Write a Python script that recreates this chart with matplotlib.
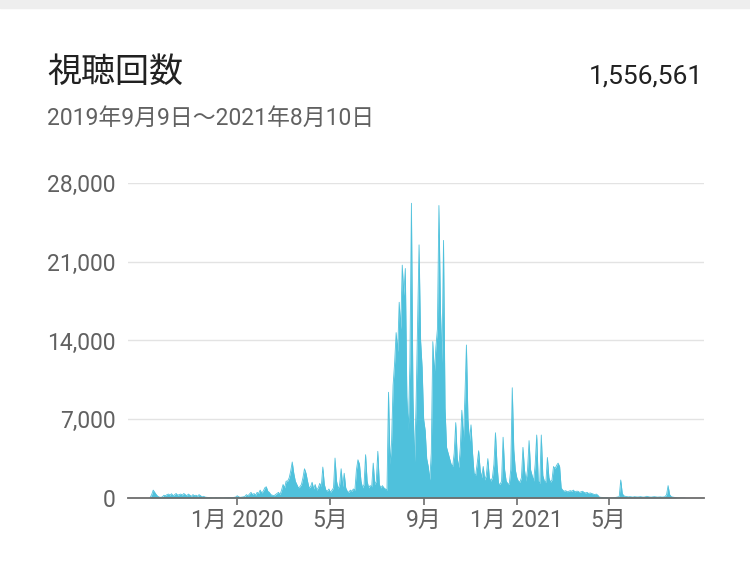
import matplotlib
matplotlib.use("Agg")
import matplotlib.pyplot as plt
import numpy as np
import pandas as pd

plt.rcParams['font.family'] = ['Roboto', 'Noto Sans CJK JP', 'DejaVu Sans']

title = "視聴回数"
total_label = "1,556,561"
subtitle = "2019年9月9日〜2021年8月10日"

start_date = "2019-09-09"
step_days = 2

# views sampled every 2 days starting 2019-09-09
views = [
    50, 300, 700, 500, 300, 150, 80, 60, 100, 250,
    200, 300, 350, 250, 380, 200, 300, 400, 250, 300,
    350, 250, 400, 300, 200, 350, 250, 150, 300, 200,
    250, 150, 300, 200, 100, 150, 80, 60, 50, 40,
    30, 20, 20, 30, 20, 20, 30, 20, 20, 30,
    30, 40, 30, 50, 40, 60, 80, 200, 100, 60,
    80, 100, 150, 300, 200, 350, 500, 300, 400, 250,
    500, 400, 700, 450, 600, 900, 1000, 600, 500, 300,
    250, 200, 300, 400, 500, 300, 700, 1200, 900, 1500,
    1500, 1800, 2400, 3200, 2200, 1500, 1200, 900, 1000, 1200,
    1800, 2600, 2200, 1500, 900, 1000, 1400, 800, 1200, 700,
    900, 1300, 1000, 2750, 1200, 700, 600, 800, 500, 700,
    900, 3550, 1500, 800, 1200, 2600, 1000, 2200, 900, 600,
    500, 700, 600, 800, 700, 2500, 3400, 3000, 1500, 900,
    1200, 3850, 1500, 900, 1100, 1000, 3100, 1200, 1500, 4150,
    1200, 900, 1100, 900, 800, 700, 9400, 3000, 4900, 10000,
    12000, 14700, 13000, 17400, 15000, 20700, 18000, 20400, 9000, 6000,
    12000, 26200, 9000, 3100, 8000, 15000, 22500, 14000, 11600, 7000,
    6000, 3500, 2800, 1600, 4000, 13900, 11000, 13400, 15000, 26000,
    16700, 12000, 22900, 8000, 4500, 4000, 3500, 3000, 2800, 4000,
    6700, 3500, 2700, 4500, 7800, 5000, 9000, 13600, 7000, 5000,
    6500, 4000, 2200, 2000, 3000, 4200, 2500, 1800, 2800, 1600,
    2000, 3500, 1800, 1500, 1800, 3000, 5800, 3000, 1300, 1200,
    1500, 5400, 2500, 1500, 1300, 1200, 2500, 9800, 4300, 2500,
    1800, 1500, 1400, 1800, 4500, 2500, 1500, 2500, 5100, 2500,
    2000, 1500, 3000, 5600, 1500, 1300, 5600, 2000, 1500, 1400,
    3600, 1800, 1400, 1600, 2800, 2600, 2900, 3100, 2800, 900,
    700, 600, 650, 550, 600, 650, 600, 700, 550, 600,
    600, 500, 550, 600, 500, 450, 500, 400, 450, 400,
    350, 300, 350, 250, 80, 60, 50, 40, 50, 40,
    10, 10, 15, 20, 30, 60, 80, 120, 1600, 400,
    200, 150, 120, 100, 120, 100, 80, 120, 100, 90,
    100, 120, 90, 80, 100, 150, 120, 90, 80, 100,
    120, 100, 80, 90, 100, 80, 90, 120, 300, 1100,
    300, 120, 80, 60, 30, 10, 5, 0, 0, 0, 0,
]

yticks = [0, 7000, 14000, 21000, 28000]
ytick_labels = ["0", "7,000", "14,000", "21,000", "28,000"]
xtick_dates = ["2020-01-01", "2020-05-01", "2020-09-01", "2021-01-01", "2021-05-01"]
xtick_labels = ["1月 2020", "5月", "9月", "1月 2021", "5月"]

dates = pd.date_range(start=start_date, periods=len(views), freq=f"{step_days}D")

fig = plt.figure(figsize=(7.5, 5.63), dpi=100)
fig.patch.set_facecolor("white")
# top grey band
fig.add_artist(plt.Rectangle((0, 1 - 8 / 563), 1, 8 / 563, transform=fig.transFigure,
                             color="#eeeeee", zorder=0))

ax = fig.add_axes([128 / 750, 1 - 498 / 563, (704 - 128) / 750, (498 - 183) / 563])
fill_color = "#4fc1dc"
ax.fill_between(dates, views, 0, color=fill_color, linewidth=0, zorder=2)
ax.plot(dates, views, color=fill_color, linewidth=0.6, zorder=2)

ax.set_ylim(0, 28000)
ax.set_xlim(pd.Timestamp("2019-08-11"), pd.Timestamp("2021-09-03"))

ax.set_yticks(yticks)
ax.set_yticklabels(ytick_labels)
ax.set_xticks([pd.Timestamp(d) for d in xtick_dates])
ax.set_xticklabels(xtick_labels)

for y in yticks[1:]:
    ax.axhline(y, color="#e3e3e3", linewidth=1.0, zorder=1)

for s in ["top", "right", "left"]:
    ax.spines[s].set_visible(False)
ax.spines["bottom"].set_color("#6d6d6d")
ax.spines["bottom"].set_linewidth(1.3)
ax.spines["bottom"].set_zorder(3)

ax.tick_params(axis="y", length=0, pad=9, labelsize=16.5, labelcolor="#616161")
ax.tick_params(axis="x", length=5, width=1.2, color="#6d6d6d", pad=3,
               labelsize=16.5, labelcolor="#616161")

fig.text(47 / 750, 1 - 73 / 563, title, fontsize=24.5, color="#212121",
         ha="left", va="center")
fig.text(703 / 750, 1 - 77 / 563, total_label, fontsize=19, color="#212121",
         ha="right", va="center")
fig.text(47 / 750, 1 - 118 / 563, subtitle, fontsize=16.5, color="#616161",
         ha="left", va="center")

fig.savefig("out.png", dpi=100)
